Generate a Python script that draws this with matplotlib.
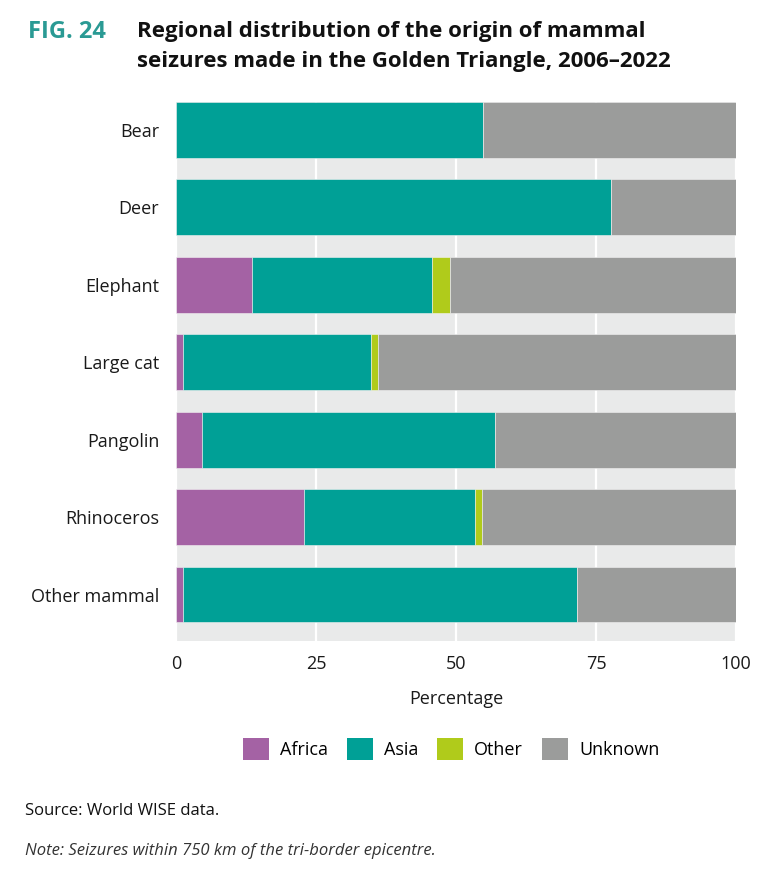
import numpy as np
import matplotlib.pyplot as plt
from matplotlib.patches import Patch

animals = ["Bear", "Deer", "Elephant", "Large cat", "Pangolin",
           "Rhinoceros", "Other mammal"]
africa = [0.0, 0.0, 13.5, 1.2, 4.7, 22.8, 1.2]
asia = [54.9, 77.6, 32.3, 33.6, 52.2, 30.6, 70.4]
other = [0.0, 0.0, 3.2, 1.2, 0.0, 1.2, 0.0]
unknown = [100 - a - b - c for a, b, c in zip(africa, asia, other)]

regions = ["Africa", "Asia", "Other", "Unknown"]
colors = ["#a462a4", "#00a096", "#b0cb1b", "#9b9c9b"]

font = "Open Sans"
plt.rcParams['font.family'] = [font, 'DejaVu Sans']

fig = plt.figure(figsize=(7.7, 8.83), dpi=100)
ax = fig.add_axes([176 / 770, 1 - 641 / 883, 560 / 770, 539 / 883])
ax.set_facecolor("#e9eaea")

y = np.arange(len(animals))
left = np.zeros(len(animals))
for vals, col in zip([africa, asia, other, unknown], colors):
    ax.barh(y, vals, left=left, height=0.72, color=col,
            edgecolor="#f2f2f2", linewidth=0.4, zorder=3)
    left += np.array(vals)

ax.set_xlim(0, 100)
ax.set_ylim(6.6, -0.36)
ax.set_xticks([0, 25, 50, 75, 100])
ax.set_xticklabels(["0", "25", "50", "75", "100"])
ax.set_yticks(y)
ax.set_yticklabels(animals)
ax.grid(axis="x", color="white", linewidth=1.6, zorder=1)
ax.tick_params(length=0, labelsize=13, colors="#1a1a1a")
ax.tick_params(axis="x", pad=10)
ax.tick_params(axis="y", pad=12)
for s in ax.spines.values():
    s.set_visible(False)
ax.set_xlabel("Percentage", fontsize=13, color="#1a1a1a", labelpad=12)

handles = [Patch(facecolor=c, edgecolor="none", label=r) for r, c in zip(regions, colors)]
fig.legend(handles=handles, loc="center", bbox_to_anchor=(451 / 770, 1 - 749 / 883),
           ncol=4, frameon=False, fontsize=13, handlelength=1.45, handleheight=1.45,
           handletextpad=0.6, columnspacing=1.05)

fig.text(28 / 770, 1 - 32 / 883, "FIG. 24", fontsize=17, fontweight="bold",
         color="#2a9a94", va="center")
fig.text(137 / 770, 1 - 32 / 883,
         "Regional distribution of the origin of mammal", fontsize=16,
         fontweight="bold", color="#111111", va="center")
fig.text(137 / 770, 1 - 61 / 883,
         "seizures made in the Golden Triangle, 2006\u20132022", fontsize=16,
         fontweight="bold", color="#111111", va="center")

fig.text(25 / 770, 1 - 811 / 883, "Source: World WISE data.", fontsize=12,
         fontweight="medium", color="#111111", va="center")
fig.text(25 / 770, 1 - 851 / 883,
         "Note: Seizures within 750 km of the tri-border epicentre.",
         fontsize=12, style="italic", color="#333333", va="center")

fig.savefig("out.png", dpi=100)
